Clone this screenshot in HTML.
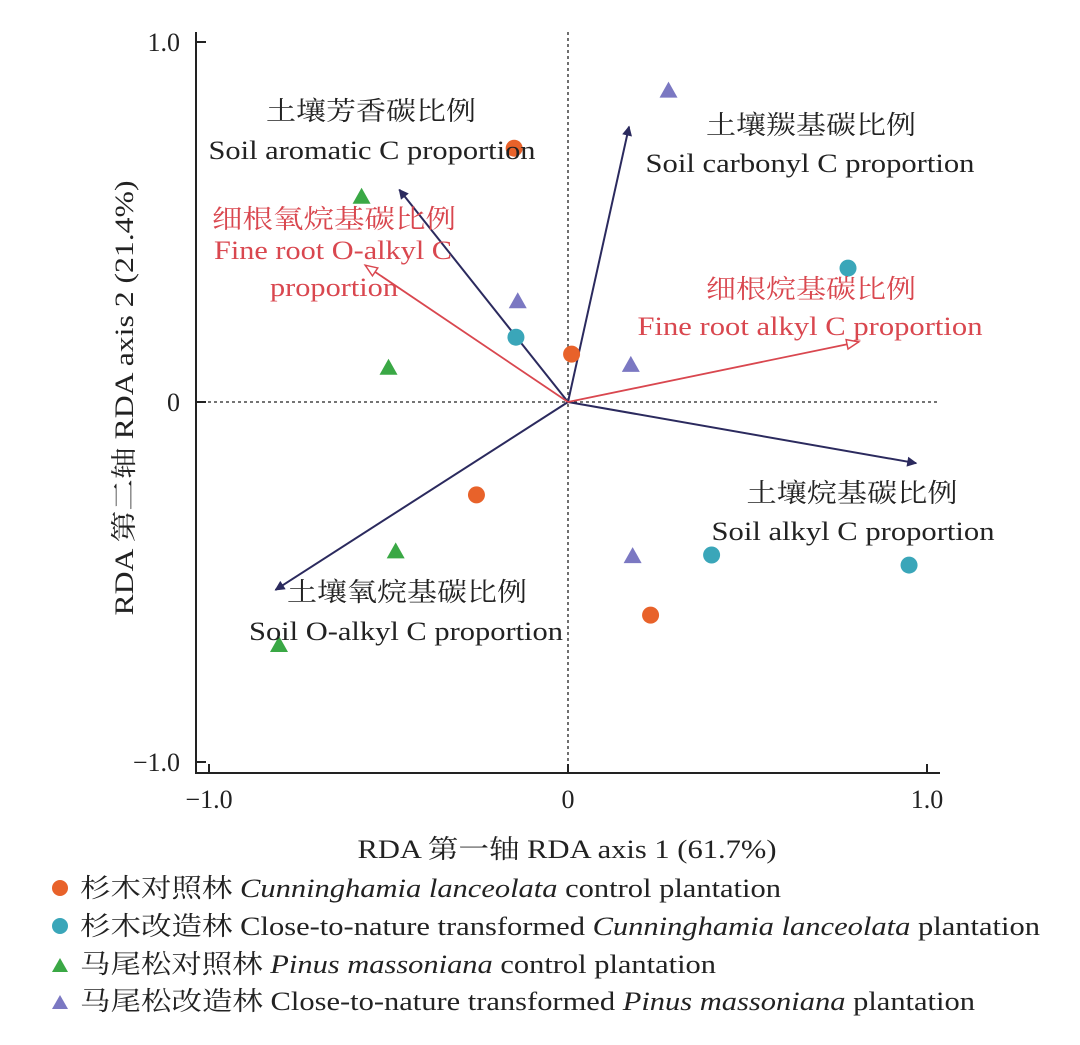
<!DOCTYPE html>
<html><head><meta charset="utf-8"><style>
html,body{margin:0;padding:0;background:#fff}
svg text{font-family:"Liberation Serif","Noto Serif CJK SC",serif}
</style></head><body>
<svg id="chart" width="1080" height="1040" viewBox="0 0 1080 1040" xmlns="http://www.w3.org/2000/svg">
<defs>
<marker id="navyHead" viewBox="0 0 10 10" refX="9" refY="5" markerWidth="14" markerHeight="10" markerUnits="userSpaceOnUse" orient="auto"><path d="M0,0 L10,5 L0,10 z" fill="#2b2a5e"/></marker>
<marker id="redHead" viewBox="0 0 12 10" refX="11" refY="5" markerWidth="18" markerHeight="12" markerUnits="userSpaceOnUse" orient="auto"><path d="M1,1 L11,5 L1,9 z" fill="#fff" stroke="#d9474f" stroke-width="1.2"/></marker>
</defs>
<g id="axes"></g>
<g id="arrows"></g>
<g id="points"></g>
<g id="labels" font-size="26">
<text x="371" y="120" text-anchor="middle" fill="#222" textLength="210" lengthAdjust="spacingAndGlyphs">土壤芳香碳比例</text>
<text x="372" y="159" text-anchor="middle" fill="#222" textLength="327" lengthAdjust="spacingAndGlyphs">Soil aromatic C proportion</text>
<text x="811" y="134" text-anchor="middle" fill="#222" textLength="210" lengthAdjust="spacingAndGlyphs">土壤羰基碳比例</text>
<text x="810" y="172" text-anchor="middle" fill="#222" textLength="329" lengthAdjust="spacingAndGlyphs">Soil carbonyl C proportion</text>
<text x="334" y="228" text-anchor="middle" fill="#d9474f" textLength="244" lengthAdjust="spacingAndGlyphs">细根氧烷基碳比例</text>
<text x="333" y="259" text-anchor="middle" fill="#d9474f" textLength="238" lengthAdjust="spacingAndGlyphs">Fine root O-alkyl C</text>
<text x="334" y="296" text-anchor="middle" fill="#d9474f" textLength="128" lengthAdjust="spacingAndGlyphs">proportion</text>
<text x="811" y="298" text-anchor="middle" fill="#d9474f" textLength="210" lengthAdjust="spacingAndGlyphs">细根烷基碳比例</text>
<text x="810" y="335" text-anchor="middle" fill="#d9474f" textLength="345" lengthAdjust="spacingAndGlyphs">Fine root alkyl C proportion</text>
<text x="852" y="502" text-anchor="middle" fill="#222" textLength="211" lengthAdjust="spacingAndGlyphs">土壤烷基碳比例</text>
<text x="853" y="540" text-anchor="middle" fill="#222" textLength="283" lengthAdjust="spacingAndGlyphs">Soil alkyl C proportion</text>
<text x="407" y="601" text-anchor="middle" fill="#222" textLength="240" lengthAdjust="spacingAndGlyphs">土壤氧烷基碳比例</text>
<text x="406" y="640" text-anchor="middle" fill="#222" textLength="314" lengthAdjust="spacingAndGlyphs">Soil O-alkyl C proportion</text>
</g>
<text x="567" y="858" font-size="26" text-anchor="middle" fill="#222" textLength="419" lengthAdjust="spacingAndGlyphs">RDA 第一轴 RDA axis 1 (61.7%)</text>
<text x="0" y="0" font-size="26" text-anchor="middle" fill="#222" textLength="435" lengthAdjust="spacingAndGlyphs" transform="translate(133,398) rotate(-90)">RDA 第二轴 RDA axis 2 (21.4%)</text>
<g id="legend" font-size="26">
<g><circle cx="60" cy="888" r="8" fill="#e8622a"/><text x="80" y="897" fill="#222" textLength="701" lengthAdjust="spacingAndGlyphs">杉木对照林 <tspan font-style="italic">Cunninghamia lanceolata</tspan> control plantation</text></g>
<g><circle cx="60" cy="926" r="8" fill="#3aa6b9"/><text x="80" y="935" fill="#222" textLength="960" lengthAdjust="spacingAndGlyphs">杉木改造林 Close-to-nature transformed <tspan font-style="italic">Cunninghamia lanceolata</tspan> plantation</text></g>
<g><path d="M52,972 L60,958 L68,972 z" fill="#3aa845"/><text x="80" y="973" fill="#222" textLength="636" lengthAdjust="spacingAndGlyphs">马尾松对照林 <tspan font-style="italic">Pinus massoniana</tspan> control plantation</text></g>
<g><path d="M52,1009 L60,995 L68,1009 z" fill="#7b78c2"/><text x="80" y="1010" fill="#222" textLength="895" lengthAdjust="spacingAndGlyphs">马尾松改造林 Close-to-nature transformed <tspan font-style="italic">Pinus massoniana</tspan> plantation</text></g>
</g>
</svg>
<script>
const xTicks=[-1,0,1];
const xTickLabels=["\u22121.0","0","1.0"];
const yTicks=[1,0,-1];
const yTickLabels=["1.0","0","\u22121.0"];
const cunCtrlX=[-0.15,0.01,-0.255,0.23];
const cunCtrlY=[0.705,0.133,-0.258,-0.592];
const cunTrX=[0.78,-0.145,0.40,0.95];
const cunTrY=[0.372,0.18,-0.425,-0.453];
const pinCtrlX=[-0.575,-0.5,-0.48,-0.805];
const pinCtrlY=[0.57,0.095,-0.415,-0.675];
const pinTrX=[0.28,-0.14,0.175,0.18];
const pinTrY=[0.865,0.28,0.103,-0.428];
const soilArrowNames=["soil-aromatic","soil-carbonyl","soil-alkyl","soil-o-alkyl"];
const soilArrowX=[-0.47,0.17,0.97,-0.815];
const soilArrowY=[0.59,0.765,-0.17,-0.522];
const rootArrowNames=["fine-root-o-alkyl","fine-root-alkyl"];
const rootArrowX=[-0.565,0.81];
const rootArrowY=[0.38,0.167];

const NS="http://www.w3.org/2000/svg";
function sx(v){return 568+v*359;}
function sy(v){return 402-v*360;}
function mk(tag,attrs,parent){const e=document.createElementNS(NS,tag);for(const k in attrs)e.setAttribute(k,attrs[k]);parent.appendChild(e);return e;}
const axes=document.getElementById('axes');
let e;
e=mk('line',{x1:196,y1:32,x2:196,y2:773,stroke:'#222','stroke-width':2},axes);


e=mk('line',{x1:195,y1:773,x2:940,y2:773,stroke:'#222','stroke-width':2},axes);


e=mk('line',{x1:sx(0),y1:32,x2:sx(0),y2:773,stroke:'#222','stroke-width':1.3,'stroke-dasharray':'3,3'},axes);


e=mk('line',{x1:196,y1:sy(0),x2:940,y2:sy(0),stroke:'#222','stroke-width':1.3,'stroke-dasharray':'3,3'},axes);


xTicks.forEach((t,i)=>{
  const l=mk('line',{x1:sx(t),y1:773,x2:sx(t),y2:764,stroke:'#222','stroke-width':2},axes);
  
  
  const tx=mk('text',{x:sx(t),y:808,'font-size':26,'text-anchor':'middle',fill:'#222'},axes);
  tx.textContent=xTickLabels[i];
  
  
});
yTicks.forEach((t,i)=>{
  const l=mk('line',{x1:196,y1:sy(t),x2:206,y2:sy(t),stroke:'#222','stroke-width':2},axes);
  
  
  const tx=mk('text',{x:180,y:sy(t)+9,'font-size':26,'text-anchor':'end',fill:'#222'},axes);
  tx.textContent=yTickLabels[i];
  
  
});
const arrows=document.getElementById('arrows');
soilArrowX.forEach((v,i)=>{
  const a=mk('line',{x1:sx(0),y1:sy(0),x2:sx(v),y2:sy(soilArrowY[i]),stroke:'#2b2a5e','stroke-width':2,'marker-end':'url(#navyHead)'},arrows);
  
  
});
rootArrowX.forEach((v,i)=>{
  const a=mk('line',{x1:sx(0),y1:sy(0),x2:sx(v),y2:sy(rootArrowY[i]),stroke:'#d9474f','stroke-width':1.8,'marker-end':'url(#redHead)'},arrows);
  
  
});
const pts=document.getElementById('points');
function circ(xs,ys,col,name){xs.forEach((v,i)=>{const c=mk('circle',{cx:sx(v),cy:sy(ys[i]),r:8.5,fill:col},pts);
  
  });}
function tri(xs,ys,col,name){xs.forEach((v,i)=>{const x=sx(v),y=sy(ys[i]);const p=mk('path',{d:`M${x-9},${y+7} L${x},${y-9} L${x+9},${y+7} z`,fill:col},pts);
  
  });}
circ(cunCtrlX,cunCtrlY,'#e8622a','point-cunninghamia-control');
circ(cunTrX,cunTrY,'#3aa6b9','point-cunninghamia-transformed');
tri(pinCtrlX,pinCtrlY,'#3aa845','point-pinus-control');
tri(pinTrX,pinTrY,'#7b78c2','point-pinus-transformed');
</script>
</body></html>
